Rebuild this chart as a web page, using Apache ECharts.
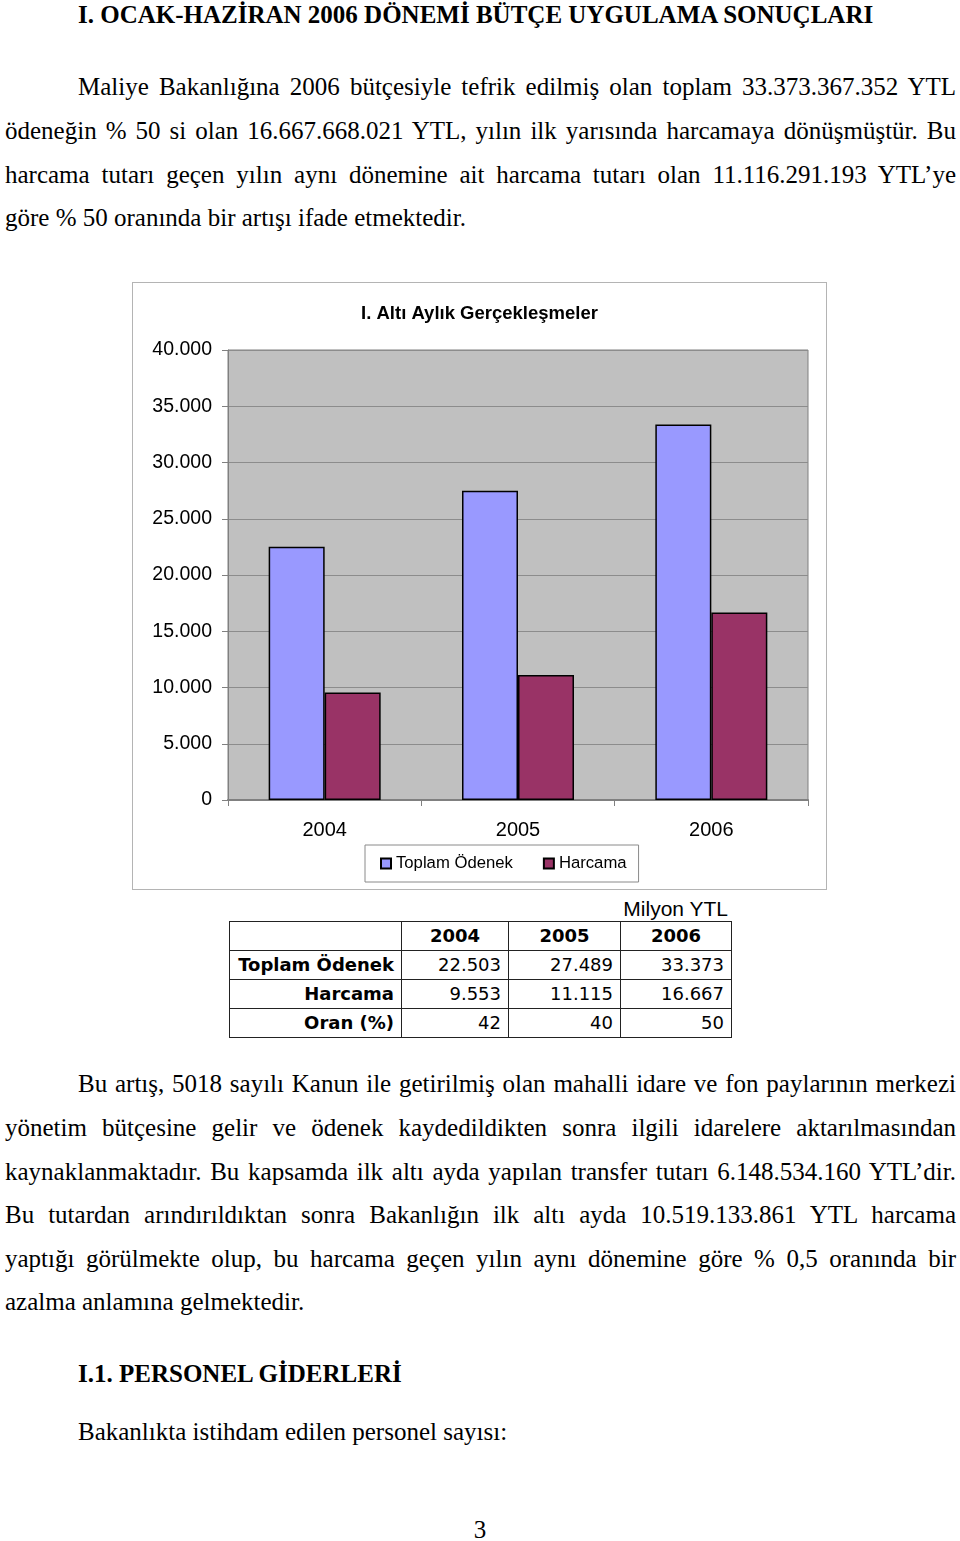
<!DOCTYPE html>
<html>
<head>
<meta charset="utf-8">
<script src="https://cdn.jsdelivr.net/npm/echarts@6/dist/echarts.min.js"></script>
<style>
  html, body { margin: 0; padding: 0; background: #fff; }
  body { width: 960px; height: 1541px; position: relative; overflow: hidden; font-family: 'Liberation Serif', 'Times New Roman', serif; color: #000; }
  .ln { position: absolute; font-size: 25px; line-height: 44px; height: 44px; white-space: nowrap; }
  .j { text-align: justify; text-align-last: justify; }
  .b { font-weight: bold; }
  #chart { position: absolute; left: 132px; top: 282px; width: 695px; height: 608px; border: 1px solid #b4b4b4; box-sizing: border-box; }
  #unit { position: absolute; left: 520px; top: 897px; width: 208px; text-align: right; font-family: 'Liberation Sans', Arial, sans-serif; font-size: 21px; line-height: 24px; }
  #tbl { position: absolute; left: 229px; top: 921px; border-collapse: collapse; font-family: 'DejaVu Sans', Tahoma, sans-serif; font-size: 18px; }
  #tbl td { border: 1px solid #222; padding: 0 7px; height: 28px; line-height: 28px; text-align: right; }
  #tbl td.h { font-weight: bold; text-align: center; }
  #tbl td.r { font-weight: bold; }
</style>
</head>
<body>
<div class="ln b" style="left:78px; top:-7px;">I. OCAK-HAZİRAN 2006 DÖNEMİ BÜTÇE UYGULAMA SONUÇLARI</div>

<div class="ln j" style="left:78px; width:878px; top:65px;">Maliye Bakanlığına 2006 bütçesiyle tefrik edilmiş olan toplam 33.373.367.352 YTL</div>
<div class="ln j" style="left:5px; width:951px; top:109px;">ödeneğin % 50 si olan 16.667.668.021 YTL, yılın ilk yarısında harcamaya dönüşmüştür. Bu</div>
<div class="ln j" style="left:5px; width:951px; top:153px;">harcama tutarı geçen yılın aynı dönemine ait harcama tutarı olan 11.116.291.193 YTL’ye</div>
<div class="ln" style="left:5px; top:196px;">göre % 50 oranında bir artışı ifade etmektedir.</div>

<div id="chart"></div>
<div id="unit">Milyon YTL</div>
<table id="tbl"></table>

<div class="ln j" style="left:78px; width:878px; top:1062px;">Bu artış, 5018 sayılı Kanun ile getirilmiş olan mahalli idare ve fon paylarının merkezi</div>
<div class="ln j" style="left:5px; width:951px; top:1106px;">yönetim bütçesine gelir ve ödenek kaydedildikten sonra ilgili idarelere aktarılmasından</div>
<div class="ln j" style="left:5px; width:951px; top:1150px;">kaynaklanmaktadır. Bu kapsamda ilk altı ayda yapılan transfer tutarı 6.148.534.160 YTL’dir.</div>
<div class="ln j" style="left:5px; width:951px; top:1193px;">Bu tutardan arındırıldıktan sonra Bakanlığın ilk altı ayda 10.519.133.861 YTL harcama</div>
<div class="ln j" style="left:5px; width:951px; top:1237px;">yaptığı görülmekte olup, bu harcama geçen yılın aynı dönemine göre % 0,5 oranında bir</div>
<div class="ln" style="left:5px; top:1280px;">azalma anlamına gelmektedir.</div>

<div class="ln b" style="left:78px; top:1352px;">I.1. PERSONEL GİDERLERİ</div>
<div class="ln" style="left:78px; top:1410px;">Bakanlıkta istihdam edilen personel sayısı:</div>
<div class="ln" style="left:0; width:960px; text-align:center; top:1508px;">3</div>

<script>
const categories = ['2004', '2005', '2006'];
const seriesNames = ['Toplam Ödenek', 'Harcama'];
const toplamOdenek = [22503, 27489, 33373];
const harcama = [9553, 11115, 16667];
const oran = [42, 40, 50];
const yTicks = [0, 5000, 10000, 15000, 20000, 25000, 30000, 35000, 40000];

function fmt(v) {
  return String(v).replace(/\B(?=(\d{3})+(?!\d))/g, '.');
}

// Table built from the same arrays
(function () {
  const t = document.getElementById('tbl');
  const widths = [172, 107, 112, 111];
  let html = '<tr><td style="width:' + (widths[0] - 15) + 'px"></td>';
  categories.forEach((c, i) => { html += '<td class="h" style="width:' + (widths[i + 1] - 15) + 'px">' + c + '</td>'; });
  html += '</tr>';
  const rows = [[seriesNames[0], toplamOdenek.map(fmt)], [seriesNames[1], harcama.map(fmt)], ['Oran (%)', oran.map(String)]];
  rows.forEach(r => {
    html += '<tr><td class="r">' + r[0] + '</td>' + r[1].map(v => '<td>' + v + '</td>').join('') + '</tr>';
  });
  t.innerHTML = html;
})();

const chart = echarts.init(document.getElementById('chart'), null, { renderer: 'canvas' });
const font = "'Liberation Sans', Arial, sans-serif";
chart.setOption({
  animation: false,
  backgroundColor: '#ffffff',
  title: {
    text: 'I. Altı Aylık Gerçekleşmeler',
    left: 'center',
    top: 16,
    textStyle: { fontFamily: font, fontWeight: 'bold', fontSize: 18.5, color: '#000' }
  },
  legend: {
    data: seriesNames,
    left: 232,
    top: 562,
    orient: 'horizontal',
    itemWidth: 10,
    itemHeight: 10,
    itemGap: 30,
    padding: [10, 12, 10, 15],
    backgroundColor: '#fff',
    borderColor: '#8a8a8a',
    borderWidth: 1,
    borderRadius: 0,
    icon: 'rect',
    textStyle: { fontFamily: font, fontSize: 16.7, color: '#000' }
  },
  grid: {
    left: 95, top: 67, width: 580, height: 450,
    show: true,
    backgroundColor: '#c0c0c0',
    borderColor: '#808080',
    borderWidth: 1,
    containLabel: false
  },
  xAxis: {
    type: 'category',
    data: categories,
    axisLine: { lineStyle: { color: '#808080', width: 2 } },
    axisTick: { show: true, alignWithLabel: false, length: 6, lineStyle: { color: '#808080' } },
    axisLabel: { margin: 20, fontFamily: font, fontSize: 20, color: '#000' }
  },
  yAxis: {
    type: 'value',
    min: 0, max: 40000, interval: 5000,
    axisLine: { show: true, lineStyle: { color: '#808080' } },
    axisTick: { show: true, length: 6, lineStyle: { color: '#808080' } },
    splitLine: { show: true, lineStyle: { color: '#8c8c8c', width: 1 } },
    axisLabel: { margin: 16, fontFamily: font, fontSize: 19.5, color: '#000', formatter: v => fmt(v) }
  },
  series: [
    {
      name: seriesNames[0], type: 'bar', data: toplamOdenek,
      barWidth: 56, barGap: '0%',
      itemStyle: { color: '#9999ff', borderColor: '#000', borderWidth: 1.5 }
    },
    {
      name: seriesNames[1], type: 'bar', data: harcama,
      barWidth: 56, barGap: '0%',
      itemStyle: { color: '#993366', borderColor: '#000', borderWidth: 1.5 }
    }
  ]
});
</script>
</body>
</html>
